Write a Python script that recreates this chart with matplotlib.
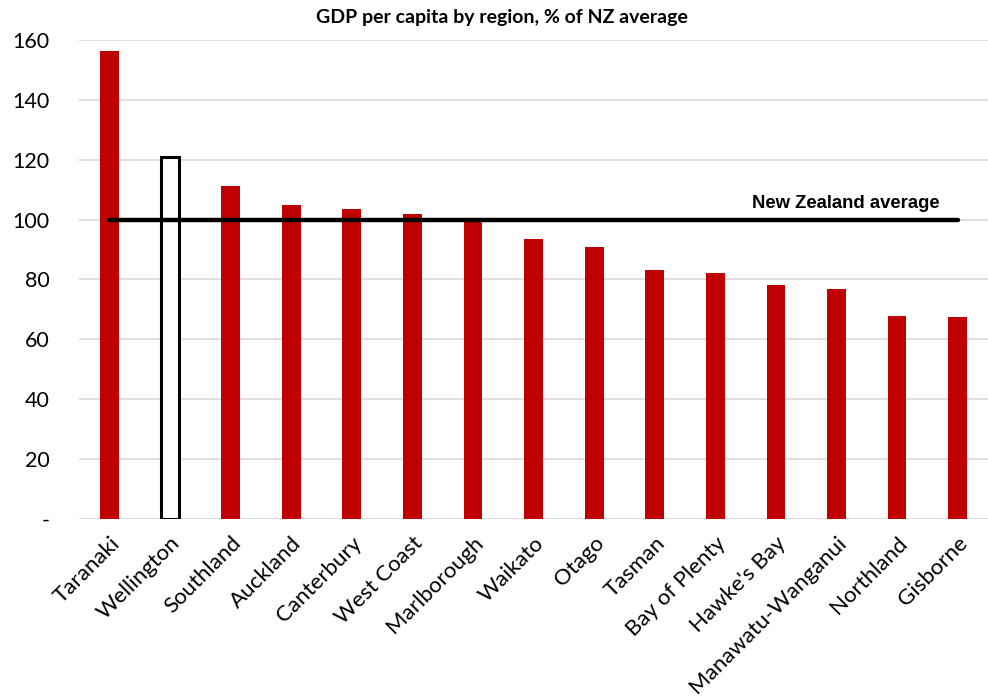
import matplotlib
matplotlib.use("Agg")
import matplotlib.pyplot as plt
import numpy as np

regions = ["Taranaki", "Wellington", "Southland", "Auckland", "Canterbury",
           "West Coast", "Marlborough", "Waikato", "Otago", "Tasman",
           "Bay of Plenty", "Hawke's Bay", "Manawatu-Wanganui", "Northland",
           "Gisborne"]
gdp_pct = [156.3, 121.0, 111.2, 104.8, 103.4, 101.9, 99.8, 93.6, 91.0,
           83.2, 82.2, 78.2, 76.9, 67.9, 67.5]
nz_average = 100
y_ticks = [0, 20, 40, 60, 80, 100, 120, 140, 160]
y_labels = ["-", "20", "40", "60", "80", "100", "120", "140", "160"]

RED = "#C00000"
GRID = "#D9D9D9"

fig = plt.figure(figsize=(9.88, 7.0), dpi=100)
ax = fig.add_axes([0.08, 0.2586, 0.92, 0.6843])

x = np.arange(len(regions))
colors = [RED if r != "Wellington" else "white" for r in regions]
bars = ax.bar(x, gdp_pct, width=0.31, color=colors, zorder=2)
# Wellington shown as an outline only
well = bars[regions.index("Wellington")]
well.set_edgecolor("black")
well.set_linewidth(2.2)

ax.plot([x[0], x[-1]], [nz_average, nz_average], color="black",
        linewidth=3.2, solid_capstyle="round", zorder=3)
ax.text(x[-1] - 0.3, nz_average + 2.5, "New Zealand average",
        ha="right", va="bottom", fontsize=13.3, fontweight="bold",
        family="Liberation Sans")

ax.set_xlim(-0.5, len(regions) - 0.5)
ax.set_ylim(0, 160)
ax.set_yticks(y_ticks)
ax.set_yticklabels(y_labels, family="Lato", fontsize=15.5)
ax.set_xticks(x)
ax.set_xticklabels(regions, rotation=45, ha="right", rotation_mode="anchor",
                   family="Lato", fontsize=16)
ax.tick_params(axis="both", length=0, pad=10)
ax.tick_params(axis="y", pad=21)
for lbl in ax.get_yticklabels():
    lbl.set_horizontalalignment("right")

ax.yaxis.grid(True, color=GRID, linewidth=1.2, zorder=0)
ax.set_axisbelow(True)
for s in ax.spines.values():
    s.set_visible(False)

fig.text(502 / 988, 1 - 17 / 700, "GDP per capita by region, % of NZ average",
         ha="center", va="center", fontsize=14, fontweight="bold",
         family="Lato")

fig.savefig("out.png", dpi=100)
